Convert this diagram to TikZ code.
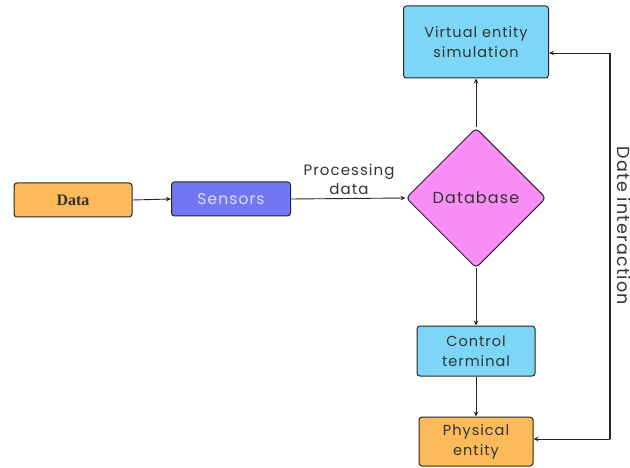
\documentclass[tikz,border=0pt]{standalone}
\usepackage{fontspec}
\setmainfont{Poppins}[LetterSpace=7]
\newfontfamily\datafont{Liberation Serif}
\usetikzlibrary{shapes.geometric,arrows.meta}
\definecolor{orangebox}{HTML}{FDBA5A}
\definecolor{violetbox}{HTML}{7276F0}
\definecolor{pinkbox}{HTML}{FA8EF7}
\definecolor{bluebox}{HTML}{7DD6F6}
\definecolor{txt}{HTML}{333333}
\tikzset{
  box/.style={draw=black!85, line width=1pt, rounded corners=3pt, align=center, text=txt, font=\fontsize{14.5}{20}\selectfont, inner sep=0pt},
  arr/.style={-{Stealth[length=5pt,width=4.5pt]}, line width=0.9pt, black!85},
}
\begin{document}
\begin{tikzpicture}[x=1pt,y=-1pt]
\useasboundingbox (0,0) rectangle (630,468);
\node[box, fill=orangebox, minimum width=118pt, minimum height=34pt] (data) at (73,200) {\datafont\fontsize{16}{18}\selectfont\textbf{Data}};
\node[box, fill=violetbox, minimum width=119pt, minimum height=34pt, text={rgb,255:red,220;green,222;blue,255}, font=\fontsize{15.5}{17}\selectfont] (sens) at (231,199) {Sensors};
\node[box, diamond, fill=pinkbox, minimum width=140pt, minimum height=140pt, aspect=1, rounded corners=4pt, font=\fontsize{16}{17}\selectfont] (db) at (476,198) {Database};
\node[box, fill=bluebox, minimum width=145pt, minimum height=72pt] (ves) at (476,42) {Virtual entity\\simulation};
\node[box, fill=bluebox, minimum width=118pt, minimum height=50pt] (ct) at (476,351) {Control\\terminal};
\node[box, fill=orangebox, minimum width=114pt, minimum height=49pt] (pe) at (476,441.5) {Physical\\entity};
\coordinate (top) at (610,53);
\coordinate (bot) at (610,439);
\node[text=txt, font=\fontsize{15}{19}\selectfont, align=center] (pd) at (349,179) {Processing\\data};
\node[text=txt, font=\fontsize{17.5}{19}\selectfont, rotate=-90] (di) at (624,226) {Date interaction};
\draw[arr] (data.east) -- (sens.west);
\draw[arr] (sens.east) -- (db.west);
\draw[arr] (db.north) -- (ves.south);
\draw[arr] (db.south) -- (ct.north);
\draw[arr] (ct.south) -- (pe.north);
\draw[line width=2.4pt, black!85] (top) -- (bot);
\draw[arr] (top) -- (ves.east |- top);
\draw[arr] (bot) -- (pe.east |- bot);
\end{tikzpicture}
\end{document}
